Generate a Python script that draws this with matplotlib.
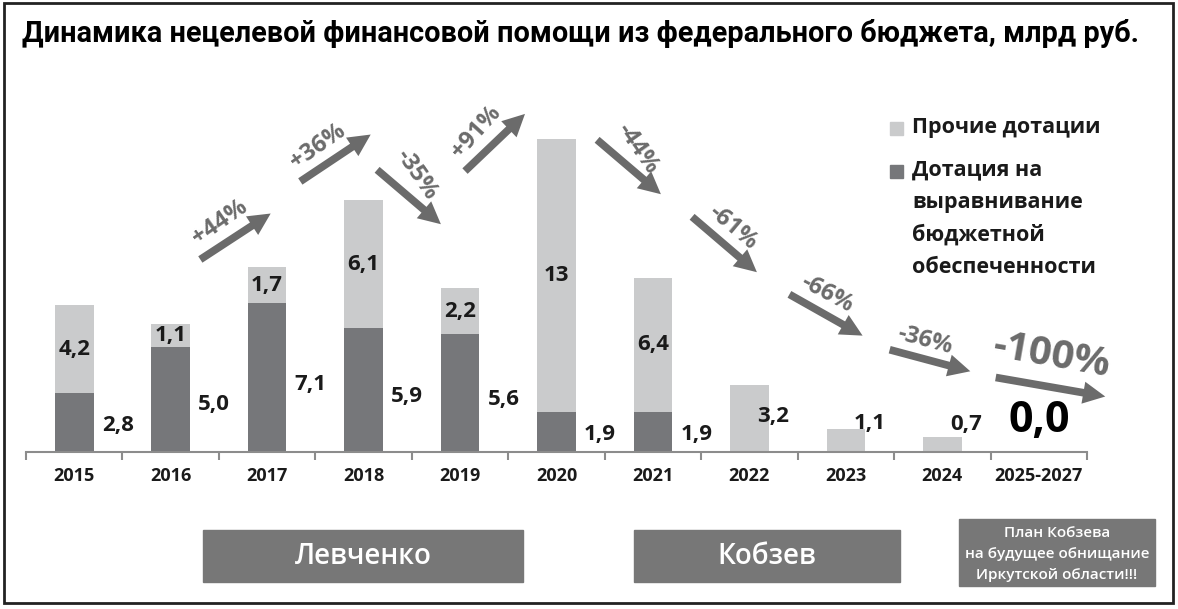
import matplotlib.pyplot as plt
from matplotlib.patches import Rectangle, FancyArrowPatch
import numpy as np

years = ["2015", "2016", "2017", "2018", "2019", "2020", "2021",
         "2022", "2023", "2024", "2025-2027"]
equalization = [2.8, 5.0, 7.1, 5.9, 5.6, 1.9, 1.9, 0, 0, 0, 0]
other = [4.2, 1.1, 1.7, 6.1, 2.2, 13, 6.4, 3.2, 1.1, 0.7, 0]
eq_labels = ["2,8", "5,0", "7,1", "5,9", "5,6", "1,9", "1,9"]
other_labels = ["4,2", "1,1", "1,7", "6,1", "2,2", "13", "6,4", "3,2", "1,1", "0,7"]
changes = ["+44%", "+36%", "-35%", "+91%", "-44%", "-61%", "-66%", "-36%", "-100%"]

DARK = "#76777a"
LIGHT = "#cacbcc"
ARROW = "#6b6b6b"
TXT = "#1a1a1a"
W, H = 1178, 609


def fp(x, y):
    # pixel position from top-left -> figure fraction
    return (x / W, 1 - y / H)


fig = plt.figure(figsize=(W / 100, H / 100), dpi=100)
ax = fig.add_axes([26 / W, (H - 452) / H, 1061 / W, 336 / H])
x = np.arange(len(years))
ax.bar(x, equalization, width=0.4, color=DARK)
ax.bar(x, other, bottom=equalization, width=0.4, color=LIGHT)
ax.set_xlim(-0.5, 10.5)
ax.set_ylim(0, 16)
for s in ["top", "right", "left"]:
    ax.spines[s].set_visible(False)
ax.spines["bottom"].set_color("#8c8c8c")
ax.spines["bottom"].set_linewidth(1.5)
ax.set_yticks([])
ax.set_xticks(np.arange(-0.5, 11, 1))
ax.set_xticklabels([])
ax.tick_params(axis="x", which="major", length=6, width=1.5, color="#8c8c8c")
ax.set_xticks(x, minor=True)
ax.set_xticklabels(years, minor=True, fontsize=13, fontweight="bold",
                   family="Open Sans", color=TXT)
ax.tick_params(axis="x", which="minor", length=0, pad=11)

lab = dict(fontsize=16, fontweight="bold", family="Open Sans", color=TXT,
           ha="center", va="center")
for i, t in enumerate(eq_labels):
    ax.text(i + 0.45, equalization[i] * 0.45, t, **lab)
for i, t in enumerate(other_labels):
    if equalization[i] > 0:
        ax.text(i, equalization[i] + other[i] / 2, t, **lab)
    else:
        ax.text(i + 0.25, other[i] * 0.15 + 1.2, t, **lab)
ax.text(10, 1.5, "0,0", fontsize=31, fontweight="bold", family="Open Sans",
        color="black", ha="center", va="center")

# change arrows: tail, head, text position, text rotation (pixels)
arrow_layout = [
    ((198, 261), (273, 212), (220, 222), 35),
    ((298, 183), (373, 133), (318, 146), 35),
    ((375, 168), (443, 226), (416, 175), -55),
    ((463, 173), (527, 112), (476, 132), 48),
    ((595, 138), (663, 196), (637, 149), -55),
    ((690, 215), (759, 274), (733, 227), -40),
    ((787, 293), (865, 337), (827, 294), -28),
    ((887, 349), (973, 372), (925, 340), -15),
    ((993, 377), (1108, 397), (1052, 356), -10),
]
for txt, (t0, t1, tp, rot) in zip(changes, arrow_layout):
    big = txt == "-100%"
    fig.patches.append(FancyArrowPatch(
        fp(*t0), fp(*t1), transform=fig.transFigure,
        arrowstyle="simple,head_length=16,head_width=16,tail_width=5.5",
        mutation_scale=1, color=ARROW, lw=0))
    fig.text(*fp(*tp), txt, fontsize=29 if big else 17, fontweight="bold",
             family="Open Sans", color=ARROW, rotation=rot,
             ha="center", va="center", rotation_mode="anchor")

# legend
fig.patches.append(Rectangle(fp(890, 135), 13 / W, 13 / H, transform=fig.transFigure,
                             color=LIGHT))
fig.patches.append(Rectangle(fp(890, 178), 13 / W, 13 / H, transform=fig.transFigure,
                             color=DARK))
leg = dict(fontsize=15.5, fontweight="bold", family="Open Sans", color=TXT,
           ha="left", va="center")
fig.text(*fp(912, 128), "Прочие дотации", **leg)
for k, line in enumerate(["Дотация на", "выравнивание", "бюджетной", "обеспеченности"]):
    fig.text(*fp(912, 170 + k * 32.5), line, **leg)

# governor boxes
boxes = [
    ((203, 530, 523, 582), "Левченко", 20),
    ((634, 530, 900, 582), "Кобзев", 20),
]
for (x0, y0, x1, y1), t, fs in boxes:
    fig.patches.append(Rectangle(fp(x0, y1), (x1 - x0) / W, (y1 - y0) / H,
                                 transform=fig.transFigure, color="#777777"))
    fig.text(*fp((x0 + x1) / 2, (y0 + y1) / 2), t, fontsize=fs, fontweight="semibold",
             family="Open Sans", color="white", ha="center", va="center")
fig.patches.append(Rectangle(fp(959, 586), 196 / W, 67 / H,
                             transform=fig.transFigure, color="#777777"))
for k, line in enumerate(["План Кобзева", "на будущее обнищание", "Иркутской области!!!"]):
    fig.text(*fp(1057, 533 + k * 21), line, fontsize=11, fontweight="semibold",
             family="Open Sans", color="white", ha="center", va="center")

fig.text(*fp(22, 34), "Динамика нецелевой финансовой помощи из федерального бюджета, млрд руб.",
         fontsize=20.8, fontweight="bold", family="Roboto", color="black",
         ha="left", va="center")

fig.patches.append(Rectangle(fp(4, 603), 1169 / W, 600 / H, transform=fig.transFigure,
                             fill=False, edgecolor="#222222", lw=2))

fig.savefig("out.png", dpi=100)
